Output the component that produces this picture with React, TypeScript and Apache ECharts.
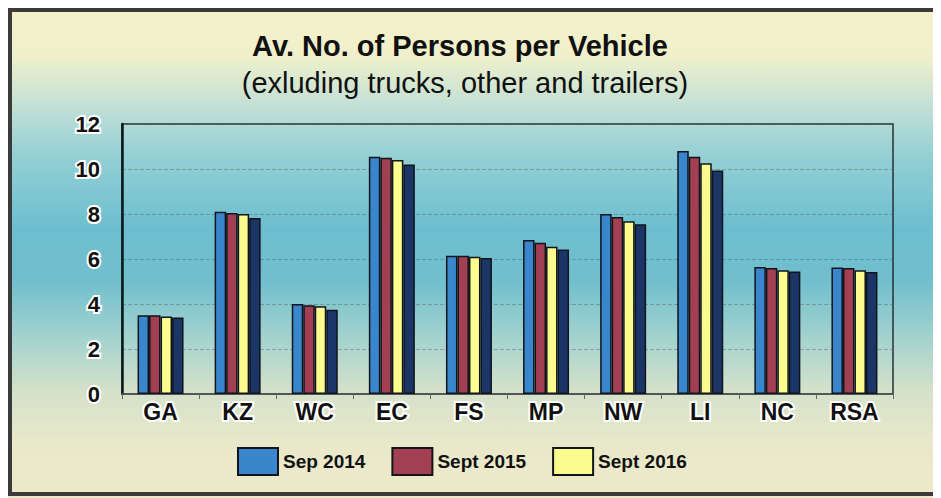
import React, { useEffect, useRef } from "react";
import * as echarts from "echarts";

const categories = ["GA", "KZ", "WC", "EC", "FS", "MP", "NW", "LI", "NC", "RSA"];
const sep2014 = [3.5, 8.1, 4.0, 10.55, 6.15, 6.85, 8.0, 10.8, 5.65, 5.62];
const sept2015 = [3.5, 8.05, 3.95, 10.5, 6.15, 6.72, 7.87, 10.55, 5.6, 5.6];
const sept2016 = [3.45, 8.0, 3.9, 10.4, 6.1, 6.55, 7.68, 10.26, 5.5, 5.5];
const sept2017 = [3.4, 7.82, 3.75, 10.2, 6.05, 6.42, 7.55, 9.93, 5.45, 5.42];
const legendNames = ["Sep 2014", "Sept 2015", "Sept 2016"];
const yTicks = { min: 0, max: 12, interval: 2 };

const App: React.FC = () => {
  const ref = useRef<HTMLDivElement>(null);
  useEffect(() => {
    if (!ref.current) return;
    const chart = echarts.init(ref.current, null, { renderer: "svg" });
    const font = "'Liberation Sans', Arial, sans-serif";
    const barStyle = (color: string) => ({
      color,
      borderColor: "#10151c",
      borderWidth: 1.5,
    });
    const mk = (name: string, data: number[], color: string) => ({
      name,
      type: "bar",
      data,
      barWidth: 11.5,
      barGap: "0%",
      itemStyle: barStyle(color),
    });
    chart.setOption({
      animation: false,
      backgroundColor: {
        type: "linear",
        x: 0,
        y: 0,
        x2: 0,
        y2: 1,
        colorStops: [
          { offset: 0, color: "#f5f1ca" },
          { offset: 0.1, color: "#eff0cb" },
          { offset: 0.2, color: "#c2e0d6" },
          { offset: 0.3, color: "#95d0d5" },
          { offset: 0.45, color: "#6cbecf" },
          { offset: 0.56, color: "#72bfcd" },
          { offset: 0.67, color: "#a2d2cf" },
          { offset: 0.78, color: "#d4e1ca" },
          { offset: 0.88, color: "#e8e8ca" },
          { offset: 1, color: "#eeeac9" },
        ],
      },
      textStyle: { fontFamily: font },
      title: [
        {
          text: "Av. No. of Persons per Vehicle",
          left: 447,
          top: 18,
          textAlign: "center",
          textStyle: { fontSize: 29, fontWeight: "bold", color: "#111", fontFamily: font },
        },
        {
          text: "(exluding trucks, other and trailers)",
          left: 452,
          top: 55,
          textAlign: "center",
          textStyle: { fontSize: 29, fontWeight: "normal", color: "#111", fontFamily: font },
        },
      ],
      legend: {
        data: legendNames,
        bottom: 17,
        left: 224,
        itemWidth: 40,
        itemHeight: 27,
        itemGap: 26,
        icon: "rect",
        textStyle: { fontSize: 19, fontWeight: "bold", color: "#111", fontFamily: font },
      },
      grid: {
        left: 114,
        right: 48,
        top: 116,
        bottom: 104,
        show: true,
        borderColor: "#2a2f33",
        borderWidth: 1.5,
        backgroundColor: "transparent",
      },
      xAxis: {
        type: "category",
        data: categories,
        axisLine: { lineStyle: { color: "#555", width: 1.5 } },
        axisTick: { show: true, length: 5, lineStyle: { color: "#666" } },
        axisLabel: {
          fontSize: 23,
          fontWeight: "bold",
          color: "#111",
          margin: 6,
          textBorderColor: "#fff",
          textBorderWidth: 4,
          fontFamily: font,
        },
      },
      yAxis: {
        type: "value",
        min: yTicks.min,
        max: yTicks.max,
        interval: yTicks.interval,
        axisLine: { show: true, lineStyle: { color: "#0a1a1a", width: 2.5 } },
        axisTick: { show: false },
        splitLine: { lineStyle: { color: "rgba(90,100,100,0.45)", type: "dashed", width: 1 } },
        axisLabel: {
          fontSize: 22,
          fontWeight: "bold",
          color: "#111",
          margin: 22,
          textBorderColor: "#fff",
          textBorderWidth: 4,
          fontFamily: font,
        },
      },
      graphic: [
        {
          type: "rect",
          shape: { x: 2, y: 2, width: 945, height: 484 },
          style: { fill: "none", stroke: "#3b3b3b", lineWidth: 4 },
          silent: true,
        },
      ],
      series: [
        mk("Sep 2014", sep2014, "#3a86cc"),
        mk("Sept 2015", sept2015, "#a23f52"),
        mk("Sept 2016", sept2016, "#fbfb8e"),
        mk("Sept 2017", sept2017, "#1b3567"),
      ],
    });
    return () => chart.dispose();
  }, []);
  return <div ref={ref} style={{ width: 933, height: 490 }} />;
};

export default App;
